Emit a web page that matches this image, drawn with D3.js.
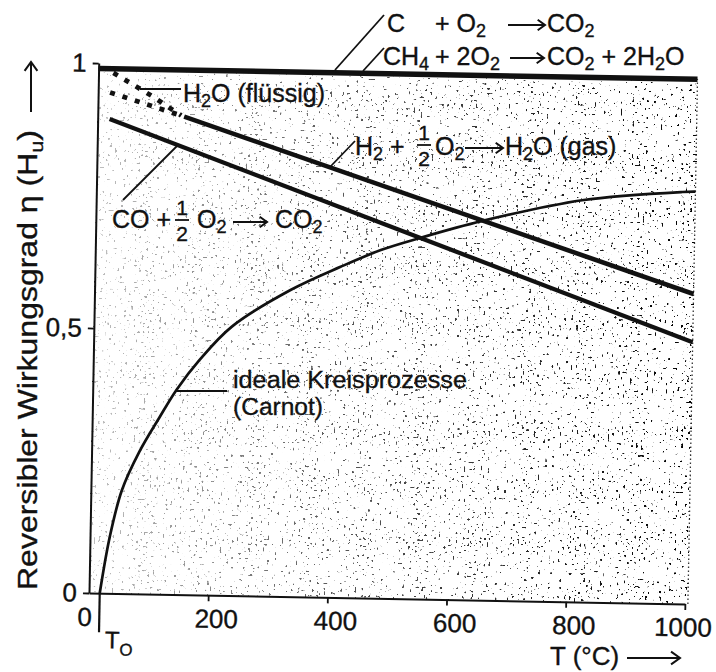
<!DOCTYPE html>
<html>
<head>
<meta charset="utf-8">
<style>
  body { margin: 0; padding: 0; background: #fff; }
  svg { display: block; }
  text { font-family: "Liberation Sans", Arial, sans-serif; fill: #111; stroke: #111; stroke-width: 0.35px; white-space: pre; }
</style>
</head>
<body>
<div id="chart"></div>
<script src="https://cdnjs.cloudflare.com/ajax/libs/d3/7.8.5/d3.min.js"></script>
<script>
  // values: T in °C, eta = reversible efficiency (based on Hu)
  var xTicks = [200, 400, 600, 800, 1000];
  var yTicks = [0, 0.5, 1];
  var yTickLabels = ["0", "0,5", "1"];

  var carbonT = [0, 1005];
  var carbonEta = [0.992, 0.992];
  var methaneT = [0, 1005];
  var methaneEta = [0.988, 0.988];
  var h2LiquidT = [25, 90, 140];
  var h2LiquidEta = [0.982, 0.94, 0.904];
  var h2GasT = [20, 145, 1005];
  var h2GasEta = [0.945, 0.902, 0.585];
  var coT = [20, 1005];
  var coEta = [0.895, 0.494];
  var carnotT = [18, 33, 52, 80, 113, 141, 178, 231, 328, 412, 479, 544, 647, 815, 983, 1005];
  var carnotEta = [0, 0.106, 0.195, 0.268, 0.334, 0.387, 0.443, 0.507, 0.578, 0.624, 0.657, 0.681, 0.715, 0.758, 0.777, 0.778];
  var T0 = 18;
  var T_END = 1005;

  var width = 716, height = 672;
  var ink = "#111";

  var svg = d3.select("#chart").append("svg")
    .attr("width", width)
    .attr("height", height);

  var x = d3.scaleLinear().domain([0, 1000]).range([89, 685]);
  var y = d3.scaleLinear().domain([0, 1]).range([593, 63]);

  // the scan is a little crooked, so the plot sits in a rotated group
  var plot = svg.append("g").attr("transform", "rotate(1.05, 89, 593)");

  // stipple of the printed figure
  var defs = svg.append("defs");
  var grain = defs.append("filter").attr("id", "grain")
    .attr("x", 0).attr("y", 0).attr("width", 1).attr("height", 1);
  grain.append("feTurbulence")
    .attr("type", "fractalNoise")
    .attr("baseFrequency", 0.42)
    .attr("numOctaves", 1)
    .attr("seed", 4)
    .attr("result", "noise");
  grain.append("feColorMatrix")
    .attr("in", "noise")
    .attr("type", "matrix")
    .attr("values", "0 0 0 0 0  0 0 0 0 0  0 0 0 0 0  25 0 0 0 -15.8");
  var fade = defs.append("linearGradient").attr("id", "fade");
  fade.append("stop").attr("offset", "0%").attr("stop-color", "#fff").attr("stop-opacity", 0.75);
  fade.append("stop").attr("offset", "40%").attr("stop-color", "#fff").attr("stop-opacity", 0.35);
  fade.append("stop").attr("offset", "100%").attr("stop-color", "#fff").attr("stop-opacity", 0);

  var area = { x: x(0), y: y(0.99), w: x(T_END) - x(0), h: y(0) - y(0.99) };
  plot.append("rect")
    .attr("x", area.x).attr("y", area.y)
    .attr("width", area.w).attr("height", area.h)
    .attr("filter", "url(#grain)");
  plot.append("rect")
    .attr("x", area.x).attr("y", area.y)
    .attr("width", area.w).attr("height", area.h)
    .attr("fill", "url(#fade)");

  // right edge of the stippled field
  plot.append("line")
    .attr("x1", x(T_END)).attr("x2", x(T_END))
    .attr("y1", y(0)).attr("y2", y(0.99))
    .attr("stroke", "#333")
    .attr("stroke-width", 1.3)
    .attr("stroke-dasharray", "1.5,2.5");

  // axes
  var xAxis = plot.append("g")
    .attr("transform", "translate(0," + y(0) + ")")
    .call(d3.axisBottom(x).tickValues(xTicks).tickSize(6).tickSizeOuter(0).tickPadding(8)
      .tickFormat(d3.format("d")));
  xAxis.select(".domain").attr("stroke", ink).attr("stroke-width", 2);
  xAxis.selectAll(".tick line").attr("stroke", ink).attr("stroke-width", 1.8);
  xAxis.selectAll(".tick text")
    .attr("fill", ink)
    .style("font-size", "26px")
    .style("font-family", "Liberation Sans, Arial, sans-serif")
    .attr("dx", function(d) { return d === 1000 ? -2 : 8; });

  var yAxis = plot.append("g")
    .attr("transform", "translate(" + x(0) + ",0)")
    .call(d3.axisLeft(y).tickValues(yTicks).tickSize(6).tickSizeOuter(0).tickPadding(6)
      .tickFormat(function(d, i) { return yTickLabels[i]; }));
  yAxis.select(".domain").attr("stroke", ink).attr("stroke-width", 2);
  yAxis.selectAll(".tick line").attr("stroke", ink).attr("stroke-width", 1.8);
  yAxis.selectAll(".tick text")
    .attr("fill", ink)
    .style("font-size", "26px")
    .style("font-family", "Liberation Sans, Arial, sans-serif");

  plot.append("text")
    .attr("x", x(0) - 4).attr("y", y(0) + 33)
    .attr("text-anchor", "middle")
    .style("font-size", "26px")
    .text("0");

  // T0 marker below the axis
  plot.append("line")
    .attr("x1", x(T0)).attr("x2", x(T0))
    .attr("y1", y(0)).attr("y2", y(0) + 39)
    .attr("stroke", ink).attr("stroke-width", 2.2);
  var t0 = plot.append("text").attr("x", x(T0) + 6).attr("y", y(0) + 55).style("font-size", "24px");
  t0.append("tspan").text("T");
  t0.append("tspan").attr("dy", 7).style("font-size", "17px").text("O");

  // curves
  function pts(ts, es) {
    return ts.map(function(t, i) { return [t, es[i]]; });
  }
  var line = d3.line()
    .x(function(d) { return x(d[0]); })
    .y(function(d) { return y(d[1]); });

  function drawLine(data, w, dash, curve) {
    plot.append("path")
      .datum(data)
      .attr("d", line.curve(curve || d3.curveLinear))
      .attr("fill", "none")
      .attr("stroke", ink)
      .attr("stroke-width", w)
      .attr("stroke-dasharray", dash || null)
      .attr("stroke-linejoin", "round");
  }

  drawLine(pts(carbonT, carbonEta), 3.4);
  drawLine(pts(methaneT, methaneEta), 3.4);
  drawLine(pts(h2LiquidT, h2LiquidEta), 4.8, "5,8");
  var h2Gas = pts(h2GasT, h2GasEta);
  drawLine(h2Gas.slice(0, 2), 4.8, "5,8");
  drawLine(h2Gas.slice(1), 4.6);
  drawLine(pts(coT, coEta), 4.3);
  drawLine(pts(carnotT, carnotEta), 2.7, null, d3.curveCatmullRom.alpha(0.5));

  // annotations, placed as on the scan
  var notes = svg.append("g");

  function lead(x1, y1, x2, y2) {
    notes.append("line")
      .attr("x1", x1).attr("y1", y1).attr("x2", x2).attr("y2", y2)
      .attr("stroke", ink).attr("stroke-width", 1.8);
  }

  function arrow(x1, y1, x2, y2, head) {
    var a = Math.atan2(y2 - y1, x2 - x1), h = head || 9, w = 0.62;
    var p = d3.path();
    p.moveTo(x1, y1);
    p.lineTo(x2, y2);
    p.moveTo(x2 - h * Math.cos(a - w), y2 - h * Math.sin(a - w));
    p.lineTo(x2, y2);
    p.lineTo(x2 - h * Math.cos(a + w), y2 - h * Math.sin(a + w));
    notes.append("path")
      .attr("d", p.toString())
      .attr("fill", "none")
      .attr("stroke", ink)
      .attr("stroke-width", 2);
  }

  // parts: [text, 1 if subscript]
  function chem(x0, y0, parts, size, len) {
    size = size || 25;
    var t = notes.append("text").attr("x", x0).attr("y", y0).style("font-size", size + "px");
    if (len) t.attr("textLength", len).attr("lengthAdjust", "spacingAndGlyphs");
    var shift = 0;
    parts.forEach(function(p) {
      var target = p[1] ? Math.round(size * 0.2) : 0;
      t.append("tspan")
        .attr("dy", target - shift)
        .style("font-size", (p[1] ? Math.round(size * 0.7) : size) + "px")
        .text(p[0]);
      shift = target;
    });
  }

  function half(cx, barY) {
    notes.append("text").attr("x", cx).attr("y", barY - 5)
      .attr("text-anchor", "middle").style("font-size", "21px").text("1");
    notes.append("line")
      .attr("x1", cx - 7).attr("x2", cx + 7)
      .attr("y1", barY).attr("y2", barY)
      .attr("stroke", ink).attr("stroke-width", 1.8);
    notes.append("text").attr("x", cx).attr("y", barY + 21)
      .attr("text-anchor", "middle").style("font-size", "21px").text("2");
  }

  // C + O2 -> CO2
  lead(335, 70, 384, 15);
  chem(387, 32, [["C"]]);
  chem(435, 32, [["+ O"], ["2", 1]]);
  arrow(508, 25, 545, 25);
  chem(547, 32, [["CO"], ["2", 1]]);

  // CH4 + 2O2 -> CO2 + 2H2O
  lead(363, 71, 384, 48);
  chem(383, 65, [["CH"], ["4", 1]]);
  chem(435, 65, [["+ 2O"], ["2", 1]]);
  arrow(510, 58, 544, 58);
  chem(547, 65, [["CO"], ["2", 1], [" + 2H"], ["2", 1], ["O"]]);

  // H2O liquid
  lead(140, 89, 181, 89);
  chem(183, 102, [["H"], ["2", 1], ["O (flüssig)"]]);

  // H2 + 1/2 O2 -> H2O gas
  lead(330, 167, 355, 141);
  chem(355, 155, [["H"], ["2", 1], [" +"]]);
  half(424, 145);
  chem(435, 155, [["O"], ["2", 1]]);
  arrow(465, 148, 503, 148);
  chem(505, 155, [["H"], ["2", 1], ["O (gas)"]]);

  // CO + 1/2 O2 -> CO2
  lead(123, 200, 177, 146);
  chem(112, 228, [["CO +"]]);
  half(182, 220);
  chem(197, 228, [["O"], ["2", 1]]);
  arrow(233, 222, 267, 222);
  chem(275, 228, [["CO"], ["2", 1]]);

  // Carnot
  lead(176, 391, 227, 391);
  chem(233, 388, [["ideale Kreisprozesse"]], 23, 234);
  chem(233, 415, [["(Carnot)"]], 23, 90);

  // axis titles
  chem(550, 665, [["T (°C)"]], 26);
  arrow(627, 658, 680, 658, 11);

  var yTitle = notes.append("text")
    .attr("transform", "translate(37,590) rotate(-90)")
    .attr("textLength", 460)
    .attr("lengthAdjust", "spacingAndGlyphs")
    .style("font-size", "28px");
  yTitle.append("tspan").text("Reversibler Wirkungsgrad η (H");
  yTitle.append("tspan").attr("dy", 6).style("font-size", "19px").text("u");
  yTitle.append("tspan").attr("dy", -6).text(")");
  arrow(31, 112, 31, 62, 11);
</script>
</body>
</html>
